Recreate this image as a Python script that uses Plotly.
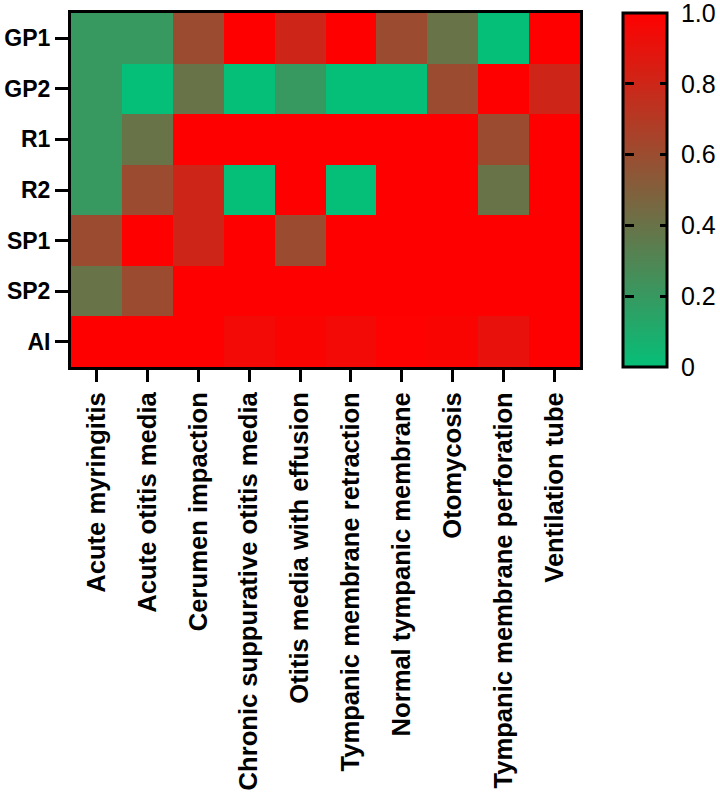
import plotly.graph_objects as go

categories = ["Acute myringitis", "Acute otitis media", "Cerumen impaction",
              "Chronic suppurative otitis media", "Otitis media with effusion",
              "Tympanic membrane retraction", "Normal tympanic membrane",
              "Otomycosis", "Tympanic membrane perforation", "Ventilation tube"]
readers = ["GP1", "GP2", "R1", "R2", "SP1", "SP2", "AI"]

gp1 = [0.2, 0.2, 0.6, 1.0, 0.8, 1.0, 0.6, 0.4, 0.0, 1.0]
gp2 = [0.2, 0.0, 0.4, 0.0, 0.2, 0.0, 0.0, 0.6, 1.0, 0.8]
r1 = [0.2, 0.4, 1.0, 1.0, 1.0, 1.0, 1.0, 1.0, 0.6, 1.0]
r2 = [0.2, 0.6, 0.8, 0.0, 1.0, 0.0, 1.0, 1.0, 0.4, 1.0]
sp1 = [0.6, 1.0, 0.8, 1.0, 0.6, 1.0, 1.0, 1.0, 1.0, 1.0]
sp2 = [0.4, 0.6, 1.0, 1.0, 1.0, 1.0, 1.0, 1.0, 1.0, 1.0]
ai = [1.0, 1.0, 1.0, 0.95, 0.98, 0.95, 0.99, 0.98, 0.91, 1.0]

cbar_ticks = [0, 0.2, 0.4, 0.6, 0.8, 1.0]
cbar_text = ["0", "0.2", "0.4", "0.6", "0.8", "1.0"]

z = [gp1, gp2, r1, r2, sp1, sp2, ai]

FONT = "Arial, Liberation Sans, Helvetica, sans-serif"

PL, PR, PT, PB = 71, 580, 13, 367
W, H = 720, 795
pw = PR - PL

CB_LEFT = 623
cb_x = (CB_LEFT - PL) / pw
helper_x = (CB_LEFT + 11 - PL) / pw

fig = go.Figure(go.Heatmap(
    z=z, x=categories, y=readers,
    zmin=0, zmax=1,
    colorscale=[[0, "#05BF78"], [1, "#FF0000"]],
    xgap=0, ygap=0,
    colorbar=dict(
        x=cb_x, xanchor="left",
        y=0.5, yanchor="middle", len=1.0, lenmode="fraction",
        thickness=44, outlinewidth=3, outlinecolor="black",
        tickvals=cbar_ticks, ticktext=["\u00a0" + t for t in cbar_text],
        ticks="inside", ticklen=8, tickwidth=3, tickcolor="black",
        ticklabeloverflow="allow",
        tickfont=dict(family=FONT, size=25, color="black"),
        ypad=0, xpad=0,
    ),
))

# helper colorbar (transparent) that only supplies the left-side tick marks
fig.add_trace(go.Scatter(
    x=[None], y=[None], mode="markers", showlegend=False, hoverinfo="skip",
    marker=dict(
        color=[0.5], cmin=0, cmax=1,
        colorscale=[[0, "rgba(0,0,0,0)"], [1, "rgba(0,0,0,0)"]],
        showscale=True,
        colorbar=dict(
            x=helper_x, xanchor="right",
            y=0.5, yanchor="middle", len=1.0, lenmode="fraction",
            thickness=6, outlinewidth=0,
            tickvals=cbar_ticks[1:-1],
            ticks="outside", ticklen=9, tickwidth=3, tickcolor="black",
            showticklabels=False,
            ypad=0, xpad=0,
        ),
    ),
))

fig.update_xaxes(
    automargin=False,
    showline=True, linewidth=3, linecolor="black", mirror=True,
    ticks="outside", ticklen=12, tickwidth=3, tickcolor="black",
    tickangle=-90, tickfont=dict(family=FONT, size=25.6, color="black", weight="bold"),
    showgrid=False, zeroline=False,
)
fig.update_yaxes(
    automargin=False,
    autorange="reversed",
    showline=True, linewidth=3, linecolor="black", mirror=True,
    ticks="outside", ticklen=13, tickwidth=3, tickcolor="black",
    tickfont=dict(family=FONT, size=23, color="black", weight="bold"),
    showgrid=False, zeroline=False,
)

fig.update_layout(
    width=W, height=H,
    margin=dict(l=PL, r=W - PR, t=PT, b=H - PB, autoexpand=False),
    plot_bgcolor="white", paper_bgcolor="white",
    font=dict(family=FONT),
)

fig.write_html("out.html", config={"displayModeBar": False},
               post_script="document.body.style.margin='0px';")
